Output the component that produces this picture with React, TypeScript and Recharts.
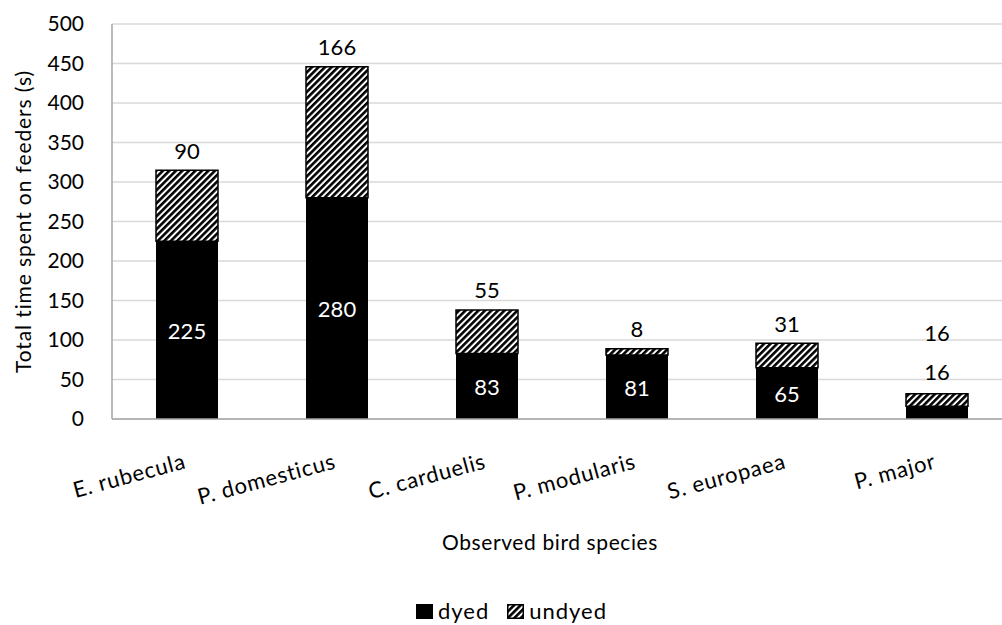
import { BarChart, Bar, XAxis, YAxis, CartesianGrid, LabelList } from 'recharts';

const species = ['E. rubecula', 'P. domesticus', 'C. carduelis', 'P. modularis', 'S. europaea', 'P. major'];
const dyed = [225, 280, 83, 81, 65, 16];
const undyed = [90, 166, 55, 8, 31, 16];
const yTicks = [0, 50, 100, 150, 200, 250, 300, 350, 400, 450, 500];

const data = species.map((name, i) => ({ name, dyed: dyed[i], undyed: undyed[i] }));

const FONT = 'Lato, "Open Sans", sans-serif';

function XTick(props: any) {
  const { x, y, payload } = props;
  const ty = y + 41;
  return (
    <text
      x={x}
      y={ty}
      textAnchor="end"
      transform={`rotate(-15, ${x}, ${ty})`}
      fontSize={22}
      letterSpacing={0.8}
      fontFamily={FONT}
      fill="#000"
    >
      {payload.value}
    </text>
  );
}

function DyedLabel(props: any) {
  const { x, y, width, height, value } = props;
  const small = height < 30;
  return (
    <text
      x={x + width / 2}
      y={small ? y - 35 : y + height / 2}
      textAnchor="middle"
      dominantBaseline="central"
      fontSize={22}
      fontFamily={FONT}
      fill={small ? '#000' : '#fff'}
    >
      {value}
    </text>
  );
}

function UndyedLabel(props: any) {
  const { x, y, width, index, value } = props;
  const small = dyed[index] < 30;
  return (
    <text
      x={x + width / 2}
      y={small ? y - 61 : y - 20}
      textAnchor="middle"
      dominantBaseline="central"
      fontSize={22}
      fontFamily={FONT}
      fill="#000"
    >
      {value}
    </text>
  );
}

function Swatch({ hatched }: { hatched?: boolean }) {
  return (
    <svg width={17} height={15} style={{ marginRight: 5 }}>
      <defs>
        <pattern id="lgHatch" patternUnits="userSpaceOnUse" width={4.6} height={4.6} patternTransform="rotate(45)">
          <rect x={0} y={0} width={4.6} height={4.6} fill="#fff" />
          <rect x={0} y={0} width={2.6} height={4.6} fill="#000" />
        </pattern>
      </defs>
      <rect x={0.75} y={0.75} width={15.5} height={13.5} fill={hatched ? 'url(#lgHatch)' : '#000'} stroke="#000" strokeWidth={1.5} />
    </svg>
  );
}

export default function App() {
  return (
    <div style={{ position: 'absolute', left: 0, top: 0, width: 1002, height: 625, overflow: 'hidden', background: '#fff' }}>
      <BarChart
        width={1030}
        height={625}
        data={data}
        margin={{ top: 24, right: 18, left: 0, bottom: 126 }}
      >
        <defs>
          <pattern id="hatch" patternUnits="userSpaceOnUse" width={4.6} height={4.6} patternTransform="rotate(45)">
            <rect x={0} y={0} width={4.6} height={4.6} fill="#fff" />
            <rect x={0} y={0} width={2.6} height={4.6} fill="#000" />
          </pattern>
        </defs>
        <CartesianGrid vertical={false} stroke="#d9d9d9" strokeWidth={1.3} />
        <XAxis
          dataKey="name"
          height={80}
          tickLine={false}
          axisLine={{ stroke: '#a6a6a6', strokeWidth: 1.5 }}
          interval={0}
          tick={<XTick />}
          label={{
            content: (p: any) => {
              const vb = p.viewBox;
              return (
                <text
                  x={vb.x + vb.width / 2 - 12}
                  y={vb.y + 122}
                  textAnchor="middle"
                  dominantBaseline="central"
                  fontSize={21}
                  letterSpacing={0.6}
                  fontFamily={FONT}
                  fill="#000"
                >
                  Observed bird species
                </text>
              );
            },
          }}
        />
        <YAxis
          width={112}
          domain={[0, 500]}
          ticks={yTicks}
          interval={0}
          tickLine={false}
          tickMargin={22}
          axisLine={{ stroke: '#a6a6a6', strokeWidth: 1.5 }}
          tick={{ fontSize: 21, fontFamily: FONT, fill: '#000' }}
          label={{
            content: (p: any) => {
              const vb = p.viewBox;
              const cy = vb.y + vb.height / 2;
              return (
                <text
                  x={22}
                  y={cy}
                  textAnchor="middle"
                  dominantBaseline="central"
                  transform={`rotate(-90, 22, ${cy})`}
                  fontSize={21}
                  letterSpacing={0.9}
                  fontFamily={FONT}
                  fill="#000"
                >
                  Total time spent on feeders (s)
                </text>
              );
            },
          }}
        />
        <Bar dataKey="dyed" stackId="a" fill="#000" barSize={62} isAnimationActive={false}>
          <LabelList dataKey="dyed" content={<DyedLabel />} />
        </Bar>
        <Bar dataKey="undyed" stackId="a" fill="url(#hatch)" stroke="#000" strokeWidth={1.5} barSize={62} isAnimationActive={false}>
          <LabelList dataKey="undyed" content={<UndyedLabel />} />
        </Bar>
      </BarChart>
      <div
        style={{
          position: 'absolute',
          top: 598,
          left: 0,
          width: 1023,
          display: 'flex',
          justifyContent: 'center',
          alignItems: 'center',
          fontFamily: FONT,
          fontSize: 22,
          letterSpacing: 1,
          color: '#000',
          lineHeight: '26px',
        }}
      >
        <span style={{ display: 'flex', alignItems: 'center', marginRight: 18 }}>
          <Swatch />
          dyed
        </span>
        <span style={{ display: 'flex', alignItems: 'center' }}>
          <Swatch hatched />
          undyed
        </span>
      </div>
    </div>
  );
}
